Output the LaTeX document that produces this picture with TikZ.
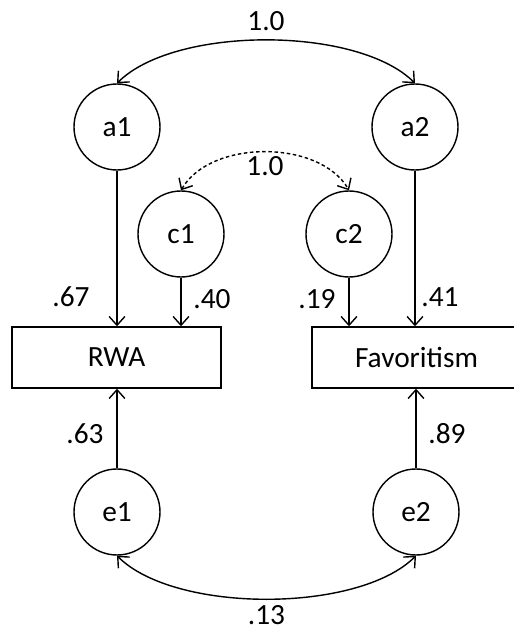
\documentclass[tikz,border=0pt]{standalone}
\usepackage{fontspec}
\setmainfont{Carlito}
\usetikzlibrary{arrows.meta, positioning}

\begin{document}
\begin{tikzpicture}[font=\fontsize{16.7}{19}\selectfont,
            latent/.style={draw, circle, line width=0.8pt, minimum size=1.72cm, inner sep=0pt},
            observed/.style={draw, line width=0.8pt, minimum width=4.18cm, minimum height=1.22cm},
            path/.style={-{Straight Barb[length=5pt, width=9pt]}, line width=0.8pt},
            cov/.style={{Straight Barb[length=5pt, width=9pt]}-{Straight Barb[length=5pt, width=9pt]}, line width=0.8pt},
            coef/.style={inner sep=1pt}]

            \useasboundingbox (0,0) rectangle (10.28,12.6);

            % Latent factors
            \node[latent] (a1) at (2.34,10.06) {a1};
            \node[latent] (a2) at (8.30,10.06) {a2};
            \node[latent] (c1) at (3.62,7.92) {c1};
            \node[latent] (c2) at (6.98,7.92) {c2};

            % Observed variables
            \node[observed] (rwa) at (2.33,5.45) {RWA};
            \node[observed] (fav) at (8.33,5.45) {Favoritism};

            % Residual factors
            \node[latent] (e1) at (2.34,2.36) {e1};
            \node[latent] (e2) at (8.32,2.36) {e2};

            % Loadings
            \draw[path] (a1.south) -- (a1.south |- rwa.north) node[coef, pos=0.81, left=0.5cm] {.67};
            \draw[path] (c1.south) -- (c1.south |- rwa.north) node[coef, pos=0.44, right=0.2cm] {.40};
            \draw[path] (c2.south) -- (c2.south |- fav.north) node[coef, pos=0.44, left=0.22cm] {.19};
            \draw[path] (a2.south) -- (a2.south |- fav.north) node[coef, pos=0.81, right=0.08cm] {.41};
            \draw[path] (e1.north) -- (e1.north |- rwa.south) node[coef, pos=0.44, left=0.22cm] {.63};
            \draw[path] (e2.north) -- (e2.north |- fav.south) node[coef, pos=0.44, right=0.2cm] {.89};

            % Correlations
            \draw[cov] (a1.north) to[out=45, in=135, looseness=0.7] node[coef, midway, above=4pt] {1.0} (a2.north);
            \draw[cov, dash pattern=on 2pt off 1.5pt] (c1.north) to[out=60, in=120, looseness=0.9] node[coef, midway, below=1pt] {1.0} (c2.north);
            \draw[cov] (e1.south) to[out=-45, in=-135, looseness=0.7] node[coef, midway, below=2pt] {.13} (e2.south);
        \end{tikzpicture}
\end{document}
